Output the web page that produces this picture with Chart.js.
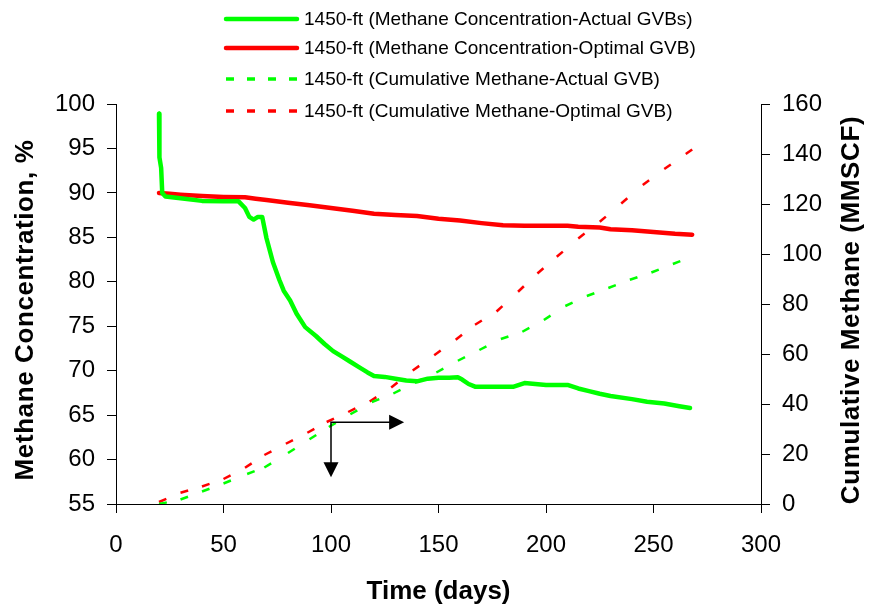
<!DOCTYPE html>
<html><head><meta charset="utf-8">
<script src="https://cdn.jsdelivr.net/npm/chart.js@4/dist/chart.umd.min.js"></script>
<style>html,body{margin:0;padding:0;background:#fff;}#wrap{width:869px;height:610px;}</style>
</head><body><div id="wrap"><canvas id="c" width="869" height="610"></canvas></div>
<script>
// ---- tick labels ----
const xTickValues = [0, 50, 100, 150, 200, 250, 300];
const leftTickValues = [55, 60, 65, 70, 75, 80, 85, 90, 95, 100];
const rightTickValues = [0, 20, 40, 60, 80, 100, 120, 140, 160];

// ---- titles / series names ----
const xTitle = 'Time (days)';
const leftTitle = 'Methane Concentration, %';
const rightTitle = 'Cumulative Methane (MMSCF)';
const seriesNames = [
  '1450-ft (Methane Concentration-Actual GVBs)',
  '1450-ft (Methane Concentration-Optimal GVB)',
  '1450-ft (Cumulative Methane-Actual GVB)',
  '1450-ft (Cumulative Methane-Optimal GVB)'
];

// ---- Methane concentration, actual GVBs (%) ----
const concActualDays = [20, 20.1, 20.3, 21, 21.5, 23, 30, 40, 50, 57, 60, 62, 64, 66, 68, 70, 73, 76, 78, 81, 84, 88, 93, 97, 101, 105, 109, 113, 117, 120, 125, 130, 135, 140, 145, 150, 155, 159, 161, 164, 167, 175, 185, 190, 195, 200, 205, 210, 215, 220, 225, 230, 240, 247, 255, 262, 267];
const concActualPct  = [98.9, 96.5, 94.0, 92.8, 90.0, 89.6, 89.4, 89.1, 89.05, 89.05, 88.3, 87.3, 87.0, 87.3, 87.3, 84.9, 82.2, 80.2, 79.0, 77.9, 76.4, 74.9, 73.9, 73.0, 72.2, 71.6, 71.0, 70.4, 69.8, 69.4, 69.3, 69.1, 68.9, 68.8, 69.1, 69.2, 69.2, 69.25, 69.0, 68.5, 68.2, 68.2, 68.2, 68.6, 68.5, 68.4, 68.4, 68.4, 68.0, 67.7, 67.4, 67.15, 66.8, 66.5, 66.3, 66.0, 65.8];

// ---- Methane concentration, optimal GVB (%) ----
const concOptimalDays = [20, 25, 30, 40, 50, 60, 65, 70, 80, 90, 100, 110, 120, 130, 140, 150, 160, 170, 180, 190, 200, 210, 215, 225, 230, 240, 250, 260, 268];
const concOptimalPct  = [90.0, 89.9, 89.8, 89.65, 89.55, 89.5, 89.35, 89.2, 88.9, 88.6, 88.3, 88.0, 87.65, 87.5, 87.4, 87.1, 86.9, 86.6, 86.35, 86.3, 86.3, 86.3, 86.2, 86.1, 85.9, 85.8, 85.6, 85.4, 85.3];

// ---- Cumulative methane, actual GVB (MMSCF) ----
const cumActualDays   = [20, 30, 40, 50, 61, 69, 80, 90, 99, 109, 119, 129, 139, 149, 159, 169, 179, 189, 199, 209, 219, 229, 239, 249, 259, 265];
const cumActualMMSCF  = [0.0, 1.8, 5.0, 8.2, 12.0, 14.6, 20.4, 25.9, 30.8, 35.9, 40.8, 44.2, 48.5, 52.6, 57.3, 61.6, 66.0, 68.9, 73.6, 79.2, 83.2, 86.4, 89.7, 92.6, 96.0, 98.0];

// ---- Cumulative methane, optimal GVB (MMSCF) ----
const cumOptimalDays  = [20, 30, 40, 50, 60, 69, 79, 89, 98, 108, 118, 128, 138, 148, 158, 167, 177, 187, 196, 205, 215, 225, 235, 245, 255, 265, 268];
const cumOptimalMMSCF = [0.8, 4.5, 7.0, 10.0, 14.5, 19.6, 24.1, 28.5, 32.8, 36.8, 41.0, 46.6, 53.4, 59.5, 65.7, 71.7, 77.0, 84.9, 92.2, 98.9, 106.2, 112.9, 120.2, 127.6, 134.0, 140.0, 141.8];

// ---- annotation arrows (days, % on left axis) ----
const arrowOrigin = [100, 64.2];
const arrowRightTip = [134, 64.2];
const arrowDownTip = [100, 58.0];

const GREEN = '#00FF00';
const RED = '#FF0000';
const FONT = '"Liberation Sans", Arial, sans-serif';

function pts(xs, ys) { return xs.map((x, i) => ({x: x, y: ys[i]})); }
const restartDash = { borderDashOffset: c => (c.p0DataIndex % 2) * 0.01 };

const legendPlugin = {
  id: 'customLegend',
  afterDraw(chart) {
    const ctx = chart.ctx;
    const rowsY = [19, 48, 79, 111];
    ctx.save();
    chart.data.datasets.forEach((ds, i) => {
      const y = rowsY[i];
      ctx.beginPath();
      ctx.strokeStyle = ds.borderColor;
      if (ds.borderDash) {
        ctx.lineWidth = 3.5; ctx.lineCap = 'butt'; ctx.setLineDash([8, 13]);
        ctx.moveTo(226, y); ctx.lineTo(298, y);
      } else {
        ctx.lineWidth = 4.5; ctx.lineCap = 'round'; ctx.setLineDash([]);
        ctx.moveTo(226, y); ctx.lineTo(297, y);
      }
      ctx.stroke();
      ctx.setLineDash([]);
      ctx.fillStyle = '#000';
      ctx.font = '19px ' + FONT;
      ctx.textBaseline = 'middle';
      ctx.textAlign = 'left';
      ctx.fillText(ds.label, 304, y + 1);
    });
    ctx.restore();
  }
};

const vTitlePlugin = {
  id: 'verticalTitles',
  afterDraw(chart) {
    const ctx = chart.ctx;
    const cy = (chart.chartArea.top + chart.chartArea.bottom) / 2 + 6;
    const items = [[leftTitle, 25.5], [rightTitle, 852]];
    ctx.save();
    ctx.fillStyle = '#000';
    ctx.font = 'bold 26px ' + FONT;
    ctx.textAlign = 'center';
    ctx.textBaseline = 'middle';
    try { ctx.letterSpacing = '0.6px'; } catch (e) {}
    items.forEach(([t, x]) => {
      ctx.save();
      ctx.translate(x, cy);
      ctx.rotate(-Math.PI / 2);
      ctx.fillText(t, 0, 0);
      ctx.restore();
    });
    ctx.restore();
  }
};

const arrowPlugin = {
  id: 'arrows',
  afterDatasetsDraw(chart) {
    const ctx = chart.ctx, xs = chart.scales.x, ys = chart.scales.y;
    const ox = xs.getPixelForValue(arrowOrigin[0]), oy = ys.getPixelForValue(arrowOrigin[1]);
    const rx = xs.getPixelForValue(arrowRightTip[0]);
    const dy = ys.getPixelForValue(arrowDownTip[1]);
    ctx.save();
    ctx.strokeStyle = '#000'; ctx.fillStyle = '#000'; ctx.lineWidth = 1.5;
    ctx.beginPath(); ctx.moveTo(ox, dy - 12); ctx.lineTo(ox, oy); ctx.lineTo(rx - 12, oy); ctx.stroke();
    ctx.beginPath(); ctx.moveTo(rx, oy); ctx.lineTo(rx - 15, oy - 7.5); ctx.lineTo(rx - 15, oy + 7.5); ctx.closePath(); ctx.fill();
    ctx.beginPath(); ctx.moveTo(ox, dy); ctx.lineTo(ox - 7.5, dy - 15); ctx.lineTo(ox + 7.5, dy - 15); ctx.closePath(); ctx.fill();
    ctx.restore();
  }
};

const tickFont = { family: FONT, size: 24 };
const titleFont = { family: FONT, size: 26, weight: 'bold' };

new Chart(document.getElementById('c'), {
  type: 'line',
  data: {
    datasets: [
      { label: seriesNames[0], data: pts(concActualDays, concActualPct), yAxisID: 'y', borderColor: GREEN, backgroundColor: GREEN, borderWidth: 4.5, borderCapStyle: 'round', borderJoinStyle: 'round', pointRadius: 0, tension: 0, fill: false },
      { label: seriesNames[1], data: pts(concOptimalDays, concOptimalPct), yAxisID: 'y', borderColor: RED, backgroundColor: RED, borderWidth: 4.5, borderCapStyle: 'round', borderJoinStyle: 'round', pointRadius: 0, tension: 0, fill: false },
      { label: seriesNames[2], data: pts(cumActualDays, cumActualMMSCF), yAxisID: 'y2', borderColor: GREEN, backgroundColor: GREEN, borderWidth: 2.5, borderDash: [8, 40], segment: restartDash, pointRadius: 0, tension: 0, fill: false },
      { label: seriesNames[3], data: pts(cumOptimalDays, cumOptimalMMSCF), yAxisID: 'y2', borderColor: RED, backgroundColor: RED, borderWidth: 2.5, borderDash: [8, 40], segment: restartDash, pointRadius: 0, tension: 0, fill: false }
    ]
  },
  options: {
    responsive: false, animation: false, devicePixelRatio: 1,
    layout: { padding: { top: 104, left: 0, right: 0, bottom: 0 } },
    plugins: { legend: { display: false }, tooltip: { enabled: false } },
    scales: {
      x: {
        type: 'linear', min: 0, max: 300,
        afterBuildTicks: s => { s.ticks = xTickValues.map(v => ({value: v})); },
        afterFit: s => { s.height = 106; },
        grid: { drawOnChartArea: false, drawTicks: true, tickLength: 9, color: '#000', tickWidth: 1 },
        border: { display: true, color: '#000', width: 1 },
        ticks: { font: tickFont, color: '#000', padding: 18, maxRotation: 0 },
        title: { display: true, text: xTitle, font: titleFont, color: '#000', padding: { top: 0, bottom: 3 } }
      },
      y: {
        type: 'linear', position: 'left', min: 55, max: 100,
        afterBuildTicks: s => { s.ticks = leftTickValues.map(v => ({value: v})); },
        afterFit: s => { s.width = 116; },
        grid: { drawOnChartArea: false, drawTicks: true, tickLength: 9, color: '#000', tickWidth: 1 },
        border: { display: true, color: '#000', width: 1 },
        ticks: { font: tickFont, color: '#000', padding: 12 },
        title: { display: false }
      },
      y2: {
        type: 'linear', position: 'right', min: 0, max: 160,
        afterBuildTicks: s => { s.ticks = rightTickValues.map(v => ({value: v})); },
        afterFit: s => { s.width = 108; },
        grid: { drawOnChartArea: false, drawTicks: true, tickLength: 9, color: '#000', tickWidth: 1 },
        border: { display: true, color: '#000', width: 1 },
        ticks: { font: tickFont, color: '#000', padding: 12 },
        title: { display: false }
      }
    }
  },
  plugins: [legendPlugin, vTitlePlugin, arrowPlugin]
});
</script></body></html>
